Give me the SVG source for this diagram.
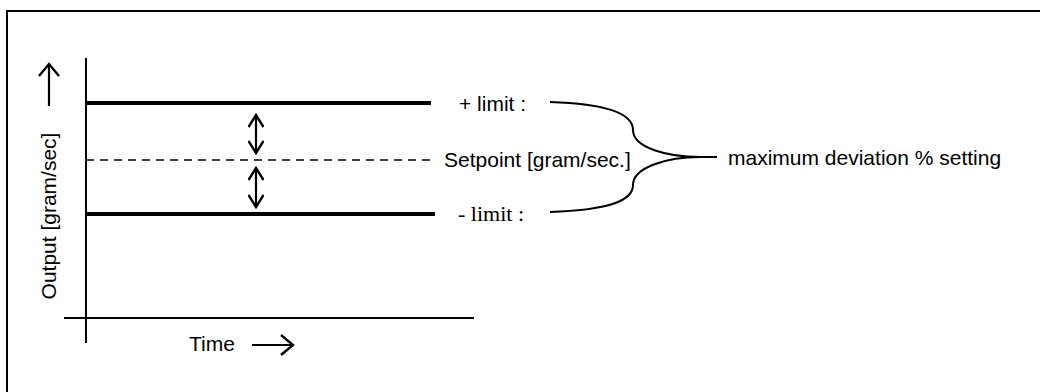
<svg xmlns="http://www.w3.org/2000/svg" width="1040" height="392" viewBox="0 0 1040 392">
<defs>
<style>
.t{font-family:"Liberation Sans",Arial,sans-serif;font-size:21px;fill:#000}
.s{font-family:"Liberation Serif","Times New Roman",serif;font-size:22px;fill:#000}
.ln{stroke:#000;fill:none}
</style>
<marker id="ah" viewBox="0 0 24 24" markerWidth="24" markerHeight="24" refX="20" refY="12" orient="auto" markerUnits="userSpaceOnUse">
<path d="M8,2 L20,12 L8,22" fill="none" stroke="#000" stroke-width="2.4"/>
</marker>
<marker id="ahs" viewBox="0 0 16 16" markerWidth="16" markerHeight="16" refX="13" refY="8" orient="auto-start-reverse" markerUnits="userSpaceOnUse">
<path d="M1,0.5 L13,8 L1,15.5" fill="none" stroke="#000" stroke-width="2.4"/>
</marker>
</defs>
<rect x="0" y="0" width="1040" height="392" fill="#fff"/>
<rect id="frame" x="7" y="11" width="1100" height="500" fill="none" stroke="#000" stroke-width="2"/>
<g id="axes">
<line class="ln" x1="86" y1="58" x2="86" y2="343" stroke-width="2"/>
<line class="ln" x1="64" y1="318" x2="474" y2="318" stroke-width="2"/>
</g>
<g id="levels">
<line class="ln" x1="86" y1="103" x2="431" y2="103" stroke-width="4"/>
<line class="ln" x1="86" y1="160" x2="431" y2="160" stroke-width="1.5" stroke-dasharray="8,6"/>
<line class="ln" x1="86" y1="214" x2="435" y2="214" stroke-width="4"/>
</g>
<g id="connectors">
<line class="ln" x1="49" y1="106" x2="49" y2="64" stroke-width="2.2" marker-end="url(#ah)"/>
<line class="ln" x1="252" y1="345" x2="293" y2="345" stroke-width="2.2" marker-end="url(#ah)"/>
<line class="ln" x1="256" y1="115" x2="256" y2="153" stroke-width="2.2" marker-start="url(#ahs)" marker-end="url(#ahs)"/>
<line class="ln" x1="256" y1="168" x2="256" y2="207" stroke-width="2.2" marker-start="url(#ahs)" marker-end="url(#ahs)"/>
<path class="ln" stroke-width="2" d="M550,102 C612,104 633,115 633,130 C633,148 668,157 700,157 L717,157"/>
<path class="ln" stroke-width="2" d="M550,212 C612,210 633,200 633,185 C633,167 668,157 700,157"/>
</g>
<g id="labels">
<text class="t" transform="translate(56,216) rotate(-90)" text-anchor="middle">Output [gram/sec]</text>
<text class="t" x="189" y="351">Time</text>
<text class="t" x="459" y="111">+ limit :</text>
<text class="t" x="444" y="167">Setpoint [gram/sec.]</text>
<text class="s" x="458" y="221">- limit :</text>
<text class="t" x="728" y="165">maximum deviation % setting</text>
</g>
</svg>
